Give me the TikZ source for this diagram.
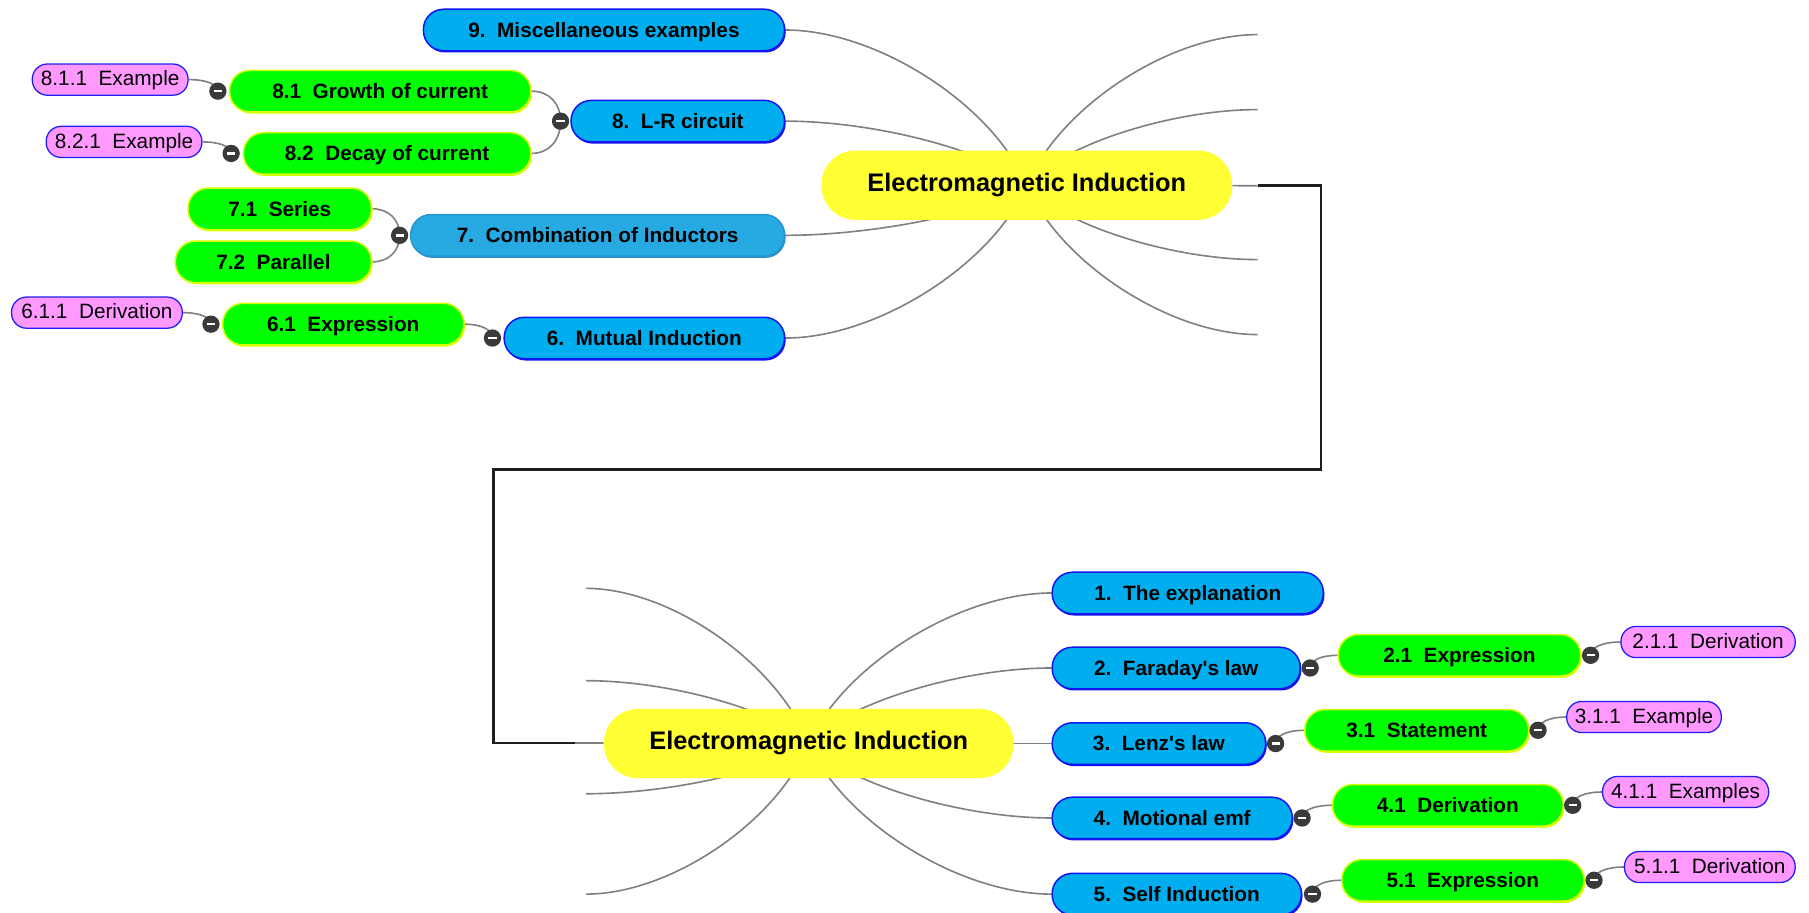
\documentclass[tikz,border=0pt]{standalone}
\usepackage{fontspec}
\setmainfont{Liberation Sans}
\usetikzlibrary{calc,shadows}
\pgfdeclarelayer{bg}
\pgfsetlayers{bg,main}

\definecolor{hubFill}{RGB}{255,255,51}
\definecolor{blueFill}{RGB}{0,173,239}
\definecolor{blueEdge}{RGB}{20,20,240}
\definecolor{comboFill}{RGB}{39,170,225}
\definecolor{comboEdge}{RGB}{37,150,207}
\definecolor{comboShade}{RGB}{40,140,200}
\definecolor{greenFill}{RGB}{0,255,0}
\definecolor{greenEdge}{RGB}{215,255,0}
\definecolor{pinkFill}{RGB}{255,153,255}
\definecolor{pinkEdge}{RGB}{30,30,250}
\definecolor{lineGray}{RGB}{128,128,128}
\definecolor{knobGray}{RGB}{58,58,58}
\definecolor{linkBlack}{RGB}{30,30,30}

% curved branch from a hub centre to a topic end
\newcommand\mmbranch[2]{%
  \draw[branch] let \p1=(#1), \p2=(#2) in
    (\p1) .. controls ({\x1+0.143*(\x2-\x1)},{\y1+0.52*(\y2-\y1)})
             and ({\x2-0.38*(\x2-\x1)},{\y2}) .. (\p2);}
% short twig from a child end to the collapse knob of its parent
\newcommand\mmtwig[2]{%
  \draw[branch] let \p1=(#1), \p2=(#2) in
    (\p1) .. controls ({\x1+0.6*(\x2-\x1)},{\y1})
             and ({\x2},{\y2-0.6*(\y2-\y1)}) .. (\p2);}

\tikzset{
  mm/.style={rectangle, rounded corners=17.5pt, minimum height=36pt,
    inner sep=0pt, text height=13pt, text depth=0.5pt,
    font=\bfseries\fontsize{18}{21}\selectfont, line width=1.3pt},
  topic/.style={mm, fill=blueFill, draw=blueEdge,
    general shadow={fill=blueEdge, shadow xshift=1pt, shadow yshift=-1.5pt}},
  combo/.style={mm, fill=comboFill, draw=comboEdge,
    general shadow={fill=comboShade, shadow xshift=1pt, shadow yshift=-1.5pt}},
  sub/.style={mm, fill=greenFill, draw=greenEdge,
    general shadow={fill=greenEdge, shadow xshift=1pt, shadow yshift=-1.5pt}},
  leaf/.style={rectangle, rounded corners=13pt, minimum height=27pt,
    inner sep=0pt, text height=13pt, text depth=2pt,
    font=\fontsize{18}{21}\selectfont, fill=pinkFill, draw=pinkEdge,
    line width=1.1pt},
  hub/.style={rectangle, rounded corners=29.5pt, minimum height=60pt,
    inner sep=0pt, fill=hubFill, text height=16pt, text depth=5pt,
    font=\bfseries\fontsize{22}{26}\selectfont},
  branch/.style={draw=lineGray, line width=1.4pt},
  knob/.style={circle, fill=knobGray, minimum size=15pt, inner sep=0pt,
    path picture={\draw[white, line width=2pt]
      ([xshift=-3.5pt]path picture bounding box.center) --
      ([xshift=3.5pt]path picture bounding box.center);}},
  linker/.style={draw=linkBlack, line width=2.4pt}
}

\begin{document}
\frenchspacing
\begin{tikzpicture}[x=1pt,y=-1pt]
\useasboundingbox (0,0) rectangle (1568,791);

% ---------- upper map (left-hand topics) ----------
\node[hub, minimum width=356pt] (hubA) at (890,160.5) {Electromagnetic Induction};

\node[topic, minimum width=313pt] (t9) at (523.5,26) {9.~~Miscellaneous examples};
\node[topic, minimum width=185pt] (t8) at (587.5,105) {8.~~L-R circuit};
\node[combo, minimum width=324pt] (t7) at (518,204) {7.~~Combination of Inductors};
\node[topic, minimum width=243pt] (t6) at (558.5,293) {6.~~Mutual Induction};

\node[sub, minimum width=261pt] (s81) at (329.5,79) {8.1~~Growth of current};
\node[sub, minimum width=249pt] (s82) at (335.5,133) {8.2~~Decay of current};
\node[sub, minimum width=159pt] (s71) at (242.5,181) {7.1~~Series};
\node[sub, minimum width=170pt] (s72) at (237,227) {7.2~~Parallel};
\node[sub, minimum width=209pt] (s61) at (297.5,281) {6.1~~Expression};

\node[leaf, minimum width=135pt] (l811) at (95.5,69) {8.1.1~~Example};
\node[leaf, minimum width=135pt] (l821) at (107.5,123) {8.2.1~~Example};
\node[leaf, minimum width=148pt] (l611) at (84,271) {6.1.1~~Derivation};

\node[knob] (k8)  at ([xshift=-8.5pt]t8.west) {};
\node[knob] (k7)  at ([xshift=-9pt]t7.west) {};
\node[knob] (k6)  at ([xshift=-9.5pt]t6.west) {};
\node[knob] (k81) at ([xshift=-9.5pt]s81.west) {};
\node[knob] (k82) at ([xshift=-10pt]s82.west) {};
\node[knob] (k61) at ([xshift=-9.5pt]s61.west) {};

% branches whose topics continue in the lower map
\coordinate (rA1) at (1090,30);
\coordinate (rA2) at (1090,95);
\coordinate (rA3) at (1090,225);
\coordinate (rA4) at (1090,290);
\coordinate (jA) at (1090,161);

% ---------- lower map (right-hand topics) ----------
\node[hub, minimum width=355pt] (hubB) at (701,644.5) {Electromagnetic Induction};

\node[topic, minimum width=235pt] (b1) at (1029.5,514) {1.~~The explanation};
\node[topic, minimum width=215pt] (b2) at (1019.5,579) {2.~~Faraday\textquotesingle s law};
\node[topic, minimum width=185pt] (b3) at (1004.5,644.5) {3.~~Lenz\textquotesingle s law};
\node[topic, minimum width=208pt] (b4) at (1016,709) {4.~~Motional emf};
\node[topic, minimum width=216pt] (b5) at (1020,775) {5.~~Self Induction};

\node[sub, minimum width=210pt] (g21) at (1265,568) {2.1~~Expression};
\node[sub, minimum width=194pt] (g31) at (1228,633) {3.1~~Statement};
\node[sub, minimum width=200pt] (g41) at (1255,698) {4.1~~Derivation};
\node[sub, minimum width=210pt] (g51) at (1268,763) {5.1~~Expression};

\node[leaf, minimum width=151pt] (p211) at (1480.5,556.5) {2.1.1~~Derivation};
\node[leaf, minimum width=134pt] (p311) at (1425,621.5) {3.1.1~~Example};
\node[leaf, minimum width=144pt] (p411) at (1461,686.5) {4.1.1~~Examples};
\node[leaf, minimum width=148pt] (p511) at (1482,751.5) {5.1.1~~Derivation};

\node[knob] (k2)  at ([xshift=8pt]b2.east) {};
\node[knob] (k3)  at ([xshift=8pt]b3.east) {};
\node[knob] (k4)  at ([xshift=8pt]b4.east) {};
\node[knob] (k5)  at ([xshift=9pt]b5.east) {};
\node[knob] (k21) at ([xshift=8pt]g21.east) {};
\node[knob] (k31) at ([xshift=7.5pt]g31.east) {};
\node[knob] (k41) at ([xshift=7.5pt]g41.east) {};
\node[knob] (k51) at ([xshift=8pt]g51.east) {};

\coordinate (lB1) at (508,510);
\coordinate (lB2) at (508,590);
\coordinate (lB3) at (508,688);
\coordinate (lB4) at (508,775);
\coordinate (jB) at (498,644);

% ---------- connectors ----------
\begin{pgfonlayer}{bg}
  \mmbranch{hubA}{t9.east}
  \mmbranch{hubA}{t8.east}
  \mmbranch{hubA}{t7.east}
  \mmbranch{hubA}{t6.east}
  \mmbranch{hubA}{rA1}
  \mmbranch{hubA}{rA2}
  \mmbranch{hubA}{rA3}
  \mmbranch{hubA}{rA4}
  \draw[branch] (hubA) -- (jA);

  \mmtwig{s81.east}{k8}
  \mmtwig{s82.east}{k8}
  \mmtwig{s71.east}{k7}
  \mmtwig{s72.east}{k7}
  \mmtwig{s61.east}{k6}
  \mmtwig{l811.east}{k81}
  \mmtwig{l821.east}{k82}
  \mmtwig{l611.east}{k61}

  \mmbranch{hubB}{b1.west}
  \mmbranch{hubB}{b2.west}
  \mmbranch{hubB}{b3.west}
  \mmbranch{hubB}{b4.west}
  \mmbranch{hubB}{b5.west}
  \mmbranch{hubB}{lB1}
  \mmbranch{hubB}{lB2}
  \mmbranch{hubB}{lB3}
  \mmbranch{hubB}{lB4}
  \draw[branch] (jB) -- (hubB);

  \mmtwig{g21.west}{k2}
  \mmtwig{g31.west}{k3}
  \mmtwig{g41.west}{k4}
  \mmtwig{g51.west}{k5}
  \mmtwig{p211.west}{k21}
  \mmtwig{p311.west}{k31}
  \mmtwig{p411.west}{k41}
  \mmtwig{p511.west}{k51}

  % link between the two maps
  \draw[linker] (jA) -- (1145,161) -- (1145,407) -- (428,407) -- (428,644) -- (jB);
\end{pgfonlayer}
\end{tikzpicture}
\end{document}
